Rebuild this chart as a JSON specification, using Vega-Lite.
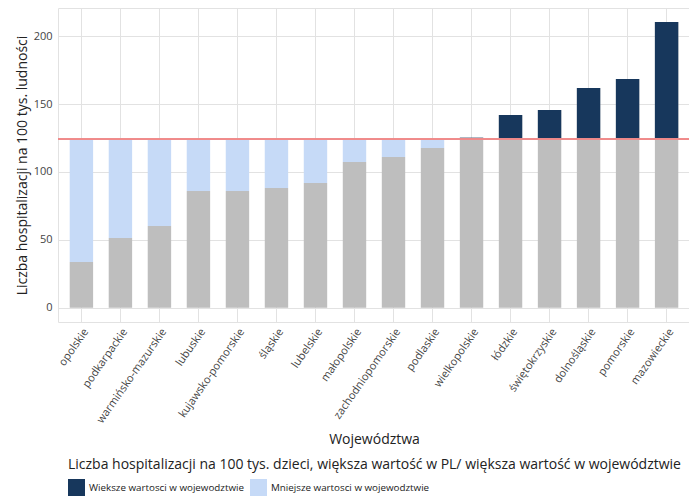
{
  "$schema": "https://vega.github.io/schema/vega-lite/v6.json",
  "width": 632,
  "height": 314,
  "autosize": {"type": "none"},
  "padding": {"left": 58, "top": 8, "right": 0, "bottom": 175},
  "background": "white",
  "config": {
    "font": "Open Sans",
    "view": {"stroke": "#e2e2e2", "strokeWidth": 1},
    "axis": {"labelFont": "Open Sans", "titleFont": "Open Sans", "labelColor": "#444444", "labelFontSize": 11, "titleFontSize": 14, "titleFontWeight": "normal", "titleColor": "#222222", "gridColor": "#e2e2e2", "gridWidth": 1, "domain": false, "ticks": false}
  },
  "data": {
    "values": [
      {"woj": "opolskie", "v": 33.6, "kat": "Mniejsze wartosci w wojewodztwie"},
      {"woj": "podkarpackie", "v": 51.3, "kat": "Mniejsze wartosci w wojewodztwie"},
      {"woj": "warmińsko-mazurskie", "v": 60.1, "kat": "Mniejsze wartosci w wojewodztwie"},
      {"woj": "lubuskie", "v": 85.9, "kat": "Mniejsze wartosci w wojewodztwie"},
      {"woj": "kujawsko-pomorskie", "v": 86.0, "kat": "Mniejsze wartosci w wojewodztwie"},
      {"woj": "śląskie", "v": 88.1, "kat": "Mniejsze wartosci w wojewodztwie"},
      {"woj": "lubelskie", "v": 91.8, "kat": "Mniejsze wartosci w wojewodztwie"},
      {"woj": "małopolskie", "v": 107.3, "kat": "Mniejsze wartosci w wojewodztwie"},
      {"woj": "zachodniopomorskie", "v": 111.0, "kat": "Mniejsze wartosci w wojewodztwie"},
      {"woj": "podlaskie", "v": 117.6, "kat": "Mniejsze wartosci w wojewodztwie"},
      {"woj": "wielkopolskie", "v": 125.2, "kat": "Wieksze wartosci w wojewodztwie"},
      {"woj": "łódzkie", "v": 141.9, "kat": "Wieksze wartosci w wojewodztwie"},
      {"woj": "świętokrzyskie", "v": 145.6, "kat": "Wieksze wartosci w wojewodztwie"},
      {"woj": "dolnośląskie", "v": 161.8, "kat": "Wieksze wartosci w wojewodztwie"},
      {"woj": "pomorskie", "v": 168.4, "kat": "Wieksze wartosci w wojewodztwie"},
      {"woj": "mazowieckie", "v": 210.3, "kat": "Wieksze wartosci w wojewodztwie"}
    ]
  },
  "layer": [
    {
      "mark": {"type": "bar", "color": "#bebebe"},
      "encoding": {
        "x": {
          "field": "woj", "type": "nominal", "sort": null,
          "scale": {"paddingInner": 0.4, "paddingOuter": 0.3},
          "axis": {"title": "Województwa", "labelAngle": -55, "labelAlign": "right", "labelBaseline": "top", "labelPadding": 4, "bandPosition": 0.5, "grid": true, "titlePadding": 8, "labelLimit": 200}
        },
        "y": {
          "field": "v", "type": "quantitative",
          "scale": {"domain": [-10.5, 220.7], "nice": false, "zero": false},
          "axis": {
            "title": "Liczba hospitalizacji na 100 tys. ludności",
            "values": [0, 25, 50, 75, 100, 125, 150, 175, 200],
            "labelExpr": "datum.value % 50 === 0 ? datum.label : ''",
            "labelPadding": 6,
            "titlePadding": 4,
            "gridColor": {"condition": {"test": "datum.value % 50 === 0", "value": "#e2e2e2"}, "value": "#ececec"}
          }
        }
      }
    },
    {
      "mark": {"type": "bar"},
      "encoding": {
        "x": {"field": "woj", "type": "nominal", "sort": null, "title": "Województwa"},
        "y": {"field": "v", "type": "quantitative", "title": "Liczba hospitalizacji na 100 tys. ludności"},
        "y2": {"datum": 124},
        "color": {
          "field": "kat", "type": "nominal",
          "scale": {"domain": ["Wieksze wartosci w wojewodztwie", "Mniejsze wartosci w wojewodztwie"], "range": ["#17375c", "#c6daf7"]},
          "legend": {
            "title": "Liczba hospitalizacji na 100 tys. dzieci, większa wartość w PL/ większa wartość w województwie",
            "orient": "none", "legendX": 10, "legendY": 450, "direction": "horizontal",
            "titleFontSize": 14, "titleFontWeight": "normal", "titleColor": "#222222", "titleLimit": 700, "titlePadding": 7,
            "labelFontSize": 9.8, "labelColor": "#222222", "labelOffset": 4, "labelLimit": 300,
            "symbolType": "square", "symbolSize": 289, "symbolStrokeWidth": 0, "symbolOpacity": 1, "columnPadding": 5
          }
        }
      }
    },
    {
      "mark": {"type": "rule", "color": "#f08a8a", "strokeWidth": 1.2},
      "encoding": {"y": {"datum": 124}}
    }
  ]
}
